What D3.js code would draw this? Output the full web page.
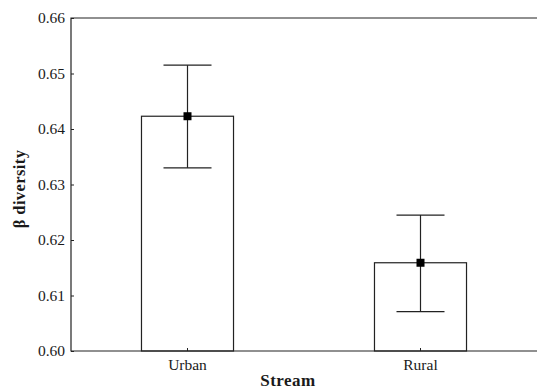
<!DOCTYPE html>
<html>
<head>
<meta charset="utf-8">
<script src="https://cdn.jsdelivr.net/npm/d3@7"></script>
<style>
  body { margin: 0; background: #fff; }
  text { font-family: "Liberation Serif", "Times New Roman", serif; fill: #1a1a1a; }
</style>
</head>
<body>
<div id="chart"></div>
<script>
// data
var groups = ["Urban", "Rural"];
var means = [0.6423, 0.6159];
var upper = [0.6515, 0.6245];
var lower = [0.6330, 0.6071];
var yTicks = [0.60, 0.61, 0.62, 0.63, 0.64, 0.65, 0.66];

var width = 537, height = 389;
var margin = {top: 18, right: 0, bottom: 38, left: 71};

var svg = d3.select("#chart").append("svg")
    .attr("width", width)
    .attr("height", height);

var x = d3.scaleBand()
    .domain(groups)
    .range([margin.left, width - margin.right])
    .paddingInner(0.605)
    .paddingOuter(0.3025);

var y = d3.scaleLinear()
    .domain([0.60, 0.66])
    .range([height - margin.bottom, margin.top]);

var stroke = "#222";

// bars
svg.selectAll("rect.bar").data(groups).enter().append("rect")
    .attr("class", "bar")
    .attr("x", function(d){ return x(d); })
    .attr("y", function(d, i){ return y(means[i]); })
    .attr("width", x.bandwidth())
    .attr("height", function(d, i){ return y(0.60) - y(means[i]); })
    .attr("fill", "#fff")
    .attr("stroke", stroke)
    .attr("stroke-width", 1.2);

// error bars
var capHalf = 24;
groups.forEach(function(g, i){
    var cx = x(g) + x.bandwidth() / 2;
    svg.append("line")
        .attr("x1", cx).attr("x2", cx)
        .attr("y1", y(upper[i])).attr("y2", y(lower[i]))
        .attr("stroke", stroke).attr("stroke-width", 1.2);
    [upper[i], lower[i]].forEach(function(v){
        svg.append("line")
            .attr("x1", cx - capHalf).attr("x2", cx + capHalf)
            .attr("y1", y(v)).attr("y2", y(v))
            .attr("stroke", stroke).attr("stroke-width", 1.2);
    });
    svg.append("rect")
        .attr("x", cx - 4).attr("y", y(means[i]) - 4)
        .attr("width", 8).attr("height", 8)
        .attr("fill", "#000");
});

// axes
var yAxis = d3.axisLeft(y).tickValues(yTicks).tickSize(-3).tickPadding(6)
    .tickFormat(d3.format(".2f"));
var gy = svg.append("g")
    .attr("transform", "translate(" + margin.left + ",0)")
    .call(yAxis);
gy.select(".domain").remove();
gy.selectAll("line").attr("stroke", stroke);
gy.selectAll("text").style("font-size", "15.5px").attr("fill", "#1a1a1a");

var xAxis = d3.axisBottom(x).tickSize(-3).tickPadding(8);
var gx = svg.append("g")
    .attr("transform", "translate(0," + y(0.60) + ")")
    .call(xAxis);
gx.select(".domain").remove();
gx.selectAll("line").attr("stroke", stroke);
gx.selectAll("text").style("font-size", "15.5px").attr("fill", "#1a1a1a");

// frame: left, top, bottom
svg.append("path")
    .attr("d", "M" + (width) + "," + y(0.66) + "H" + margin.left +
               "V" + y(0.60) + "H" + width)
    .attr("fill", "none")
    .attr("stroke", stroke)
    .attr("stroke-width", 1.2);

// axis titles
svg.append("text")
    .attr("transform", "translate(25,189) rotate(-90)")
    .attr("text-anchor", "middle")
    .style("font-size", "16.5px")
    .style("font-weight", "bold")
    .style("letter-spacing", "0.4px")
    .text("β diversity");

svg.append("text")
    .attr("x", 288)
    .attr("y", 386)
    .attr("text-anchor", "middle")
    .style("font-size", "17px")
    .style("font-weight", "bold")
    .style("letter-spacing", "0.5px")
    .text("Stream");
</script>
</body>
</html>
